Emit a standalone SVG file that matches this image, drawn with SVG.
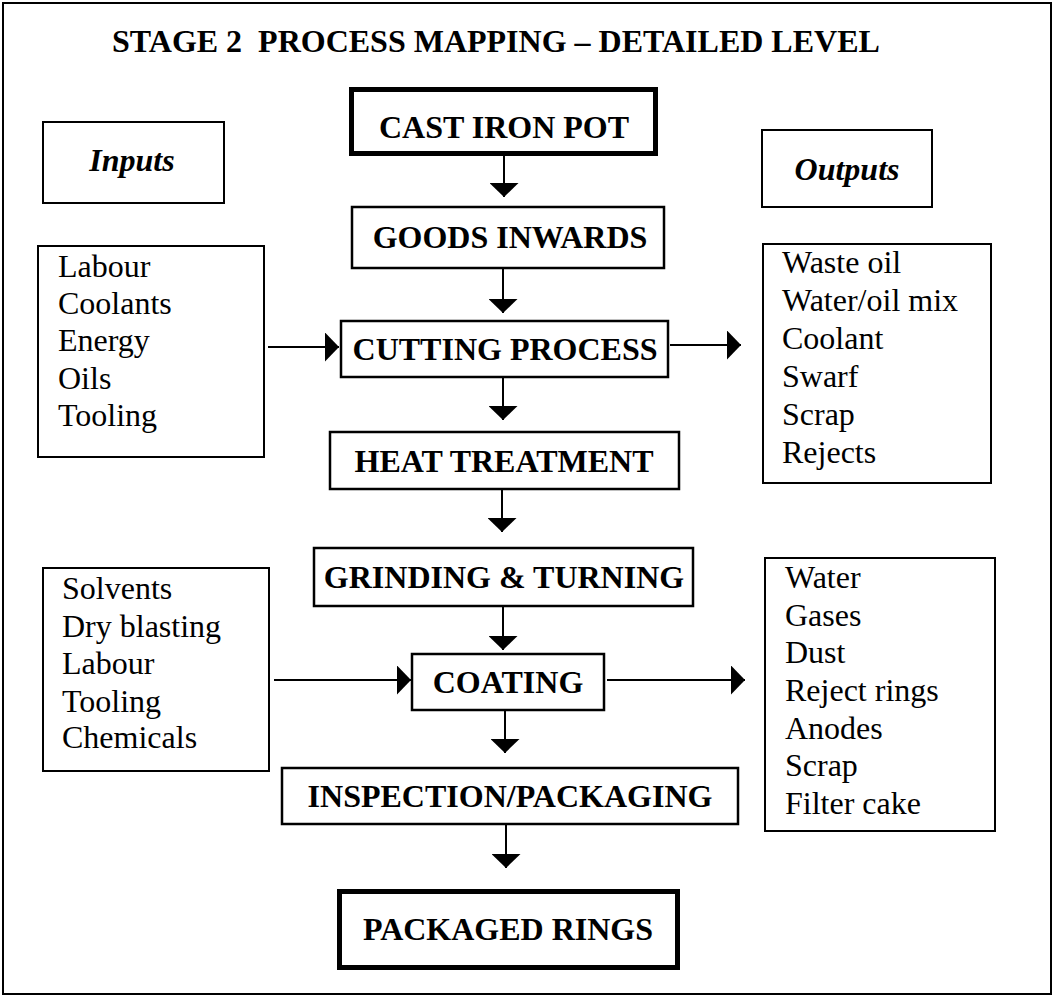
<svg xmlns="http://www.w3.org/2000/svg" width="1054" height="996" viewBox="0 0 1054 996">
<style>
  .frame { fill: #fff; stroke: #000; stroke-width: 2; }
  .box { fill: #fff; stroke: #000; stroke-width: 2.5; }
  .thick { fill: #fff; stroke: #000; stroke-width: 5; }
  .list { fill: #fff; stroke: #000; stroke-width: 2; }
  .lbl { font-family: "Liberation Serif", "Times New Roman", serif; font-size: 32px; font-weight: bold; text-anchor: middle; fill: #000; }
  .hd { font-family: "Liberation Serif", "Times New Roman", serif; font-size: 32px; font-weight: bold; font-style: italic; text-anchor: middle; fill: #000; }
  .txt { font-family: "Liberation Serif", "Times New Roman", serif; font-size: 32px; fill: #000; }
  .conn { stroke: #000; stroke-width: 2; fill: none; marker-end: url(#ah); }
</style>
<defs>
  <marker id="ah" markerUnits="userSpaceOnUse" markerWidth="14" markerHeight="29" refX="14" refY="14.5" orient="auto">
    <path d="M0,0 L14,14.5 L0,29 Z" fill="#000"/>
  </marker>
</defs>
<rect class="frame" x="3" y="3" width="1048" height="991"/>
<text class="lbl" x="112" y="52" style="text-anchor:start" xml:space="preserve">STAGE 2  PROCESS MAPPING – DETAILED LEVEL</text>

<g id="inputs-label">
  <rect class="list" x="43" y="122" width="181" height="81"/>
  <text class="hd" x="132" y="171">Inputs</text>
</g>
<g id="outputs-label">
  <rect class="list" x="762" y="130" width="170" height="77"/>
  <text class="hd" x="847" y="180">Outputs</text>
</g>

<g id="cast-iron-pot">
  <rect class="thick" x="351.5" y="89.5" width="304" height="64"/>
  <text class="lbl" x="504" y="138">CAST IRON POT</text>
</g>
<g id="goods-inwards">
  <rect class="box" x="352" y="207" width="312" height="61"/>
  <text class="lbl" x="510" y="248">GOODS INWARDS</text>
</g>
<g id="cutting-process">
  <rect class="box" x="341" y="321" width="327" height="56"/>
  <text class="lbl" x="505" y="360">CUTTING PROCESS</text>
</g>
<g id="heat-treatment">
  <rect class="box" x="330" y="432" width="349" height="57"/>
  <text class="lbl" x="504" y="472">HEAT TREATMENT</text>
</g>
<g id="grinding-turning">
  <rect class="box" x="314" y="548" width="379" height="58"/>
  <text class="lbl" x="504" y="588">GRINDING &amp; TURNING</text>
</g>
<g id="coating">
  <rect class="box" x="412" y="654" width="192" height="56"/>
  <text class="lbl" x="508" y="693">COATING</text>
</g>
<g id="inspection-packaging">
  <rect class="box" x="282" y="768" width="456" height="56"/>
  <text class="lbl" x="510" y="807">INSPECTION/PACKAGING</text>
</g>
<g id="packaged-rings">
  <rect class="thick" x="339.5" y="891.5" width="338" height="76"/>
  <text class="lbl" x="508" y="940">PACKAGED RINGS</text>
</g>

<g id="inputs-cutting">
  <rect class="list" x="38" y="246" width="226" height="211"/>
  <text class="txt" x="58" y="277">Labour</text>
  <text class="txt" x="58" y="314">Coolants</text>
  <text class="txt" x="58" y="351">Energy</text>
  <text class="txt" x="58" y="389">Oils</text>
  <text class="txt" x="58" y="426">Tooling</text>
</g>
<g id="outputs-cutting">
  <rect class="list" x="763" y="244" width="228" height="239"/>
  <text class="txt" x="782" y="273">Waste oil</text>
  <text class="txt" x="782" y="311">Water/oil mix</text>
  <text class="txt" x="782" y="349">Coolant</text>
  <text class="txt" x="782" y="387">Swarf</text>
  <text class="txt" x="782" y="425">Scrap</text>
  <text class="txt" x="782" y="463">Rejects</text>
</g>
<g id="inputs-coating">
  <rect class="list" x="43" y="568" width="226" height="203"/>
  <text class="txt" x="62" y="599">Solvents</text>
  <text class="txt" x="62" y="637">Dry blasting</text>
  <text class="txt" x="62" y="674">Labour</text>
  <text class="txt" x="62" y="712">Tooling</text>
  <text class="txt" x="62" y="748">Chemicals</text>
</g>
<g id="outputs-coating">
  <rect class="list" x="765" y="558" width="230" height="273"/>
  <text class="txt" x="785" y="588">Water</text>
  <text class="txt" x="785" y="626">Gases</text>
  <text class="txt" x="785" y="663">Dust</text>
  <text class="txt" x="785" y="701">Reject rings</text>
  <text class="txt" x="785" y="739">Anodes</text>
  <text class="txt" x="785" y="776">Scrap</text>
  <text class="txt" x="785" y="814">Filter cake</text>
</g>

<g id="connectors">
  <line class="conn" x1="504" y1="156" x2="504" y2="197"/>
  <line class="conn" x1="503" y1="269" x2="503" y2="313"/>
  <line class="conn" x1="503" y1="378" x2="503" y2="420"/>
  <line class="conn" x1="502" y1="490" x2="502" y2="532"/>
  <line class="conn" x1="503" y1="607" x2="503" y2="650"/>
  <line class="conn" x1="505" y1="711" x2="505" y2="753"/>
  <line class="conn" x1="506" y1="825" x2="506" y2="868"/>
  <line class="conn" x1="268" y1="347" x2="339" y2="347"/>
  <line class="conn" x1="670" y1="345" x2="741" y2="345"/>
  <line class="conn" x1="274" y1="680" x2="411" y2="680"/>
  <line class="conn" x1="607" y1="680" x2="745" y2="680"/>
</g>
</svg>
